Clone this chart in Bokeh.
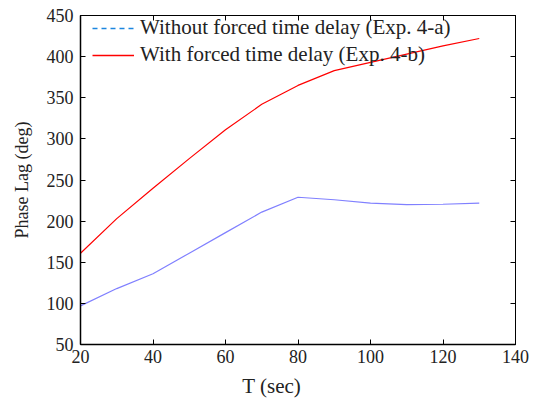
from bokeh.plotting import figure
from bokeh.models import Range1d, LinearAxis, Legend, LegendItem
from bokeh.embed import file_html
from bokeh.resources import INLINE

T = [20, 30, 40, 50, 60, 70, 80, 90, 100, 110, 120, 130]
without_delay = [97, 118, 136, 161, 186, 211, 229, 226, 222, 220, 220.5, 222]
with_delay = [161, 203, 240, 276, 311, 342, 365, 383, 393, 403, 413, 422]
x_ticks = [20, 40, 60, 80, 100, 120, 140]
y_ticks = [50, 100, 150, 200, 250, 300, 350, 400, 450]

FONT = "Liberation Serif"

p = figure(width=535, height=400, output_backend="svg", toolbar_location=None,
           x_range=Range1d(20, 140), y_range=Range1d(50, 450),
           min_border_left=80, min_border_right=20, min_border_top=15, min_border_bottom=55,
           x_axis_location=None, y_axis_location=None)
p.xgrid.visible = False
p.ygrid.visible = False
p.outline_line_color = "black"
p.outline_line_width = 1
p.background_fill_color = "white"
p.border_fill_color = "white"

def style(ax, labels=True):
    ax.major_tick_in = 5
    ax.major_tick_out = 0
    ax.minor_tick_in = 0
    ax.minor_tick_out = 0
    ax.axis_line_color = "black"
    ax.axis_line_width = 1.5
    ax.major_tick_line_color = "black"
    ax.major_label_text_font = FONT
    ax.major_label_text_font_size = "18px"
    ax.major_label_text_color = "#222222"
    ax.axis_label_text_font = FONT
    ax.axis_label_text_font_style = "normal"
    ax.axis_label_text_color = "#222222"
    if not labels:
        ax.major_label_overrides = {t: "" for t in ax.ticker.ticks}
        ax.major_label_standoff = 0

left = LinearAxis(ticker=y_ticks, axis_label="Phase Lag (deg)")
style(left)
left.major_label_standoff = 7
left.axis_label_text_font_size = "18px"
left.axis_label_standoff = 12
p.add_layout(left, "left")

bottom = LinearAxis(ticker=x_ticks, axis_label="T (sec)" + "\u00a0" * 10)
style(bottom)
bottom.major_label_standoff = 5
bottom.axis_label_text_font_size = "21px"
bottom.axis_label_standoff = 8
p.add_layout(bottom, "below")

top = LinearAxis(ticker=x_ticks)
style(top, labels=False)
top.axis_line_width = 1
p.add_layout(top, "above")

right = LinearAxis(ticker=y_ticks)
style(right, labels=False)
right.axis_line_width = 1
p.add_layout(right, "right")

p.line(T, without_delay, line_color="#8080ff", line_width=1.2)
p.line(T, with_delay, line_color="#ff0000", line_width=1.2)
leg_dash = p.line([float("nan")], [float("nan")], line_color="#1c86e0", line_width=1.5, line_dash="5 4")
leg_red = p.line([float("nan")], [float("nan")], line_color="#ff0000", line_width=1.5, line_dash="solid")

legend = Legend(items=[LegendItem(label="Without forced time delay (Exp. 4-a)", renderers=[leg_dash]),
                       LegendItem(label="With forced time delay (Exp. 4-b)", renderers=[leg_red])],
                location=(12, 277))
legend.border_line_color = None
legend.background_fill_alpha = 0
legend.label_text_font = FONT
legend.label_text_font_size = "21px"
legend.label_text_color = "#222222"
legend.glyph_width = 42
legend.glyph_height = 20
legend.label_height = 20
legend.label_standoff = 6
legend.spacing = 2
legend.margin = 0
legend.padding = 0
p.add_layout(legend)

open("out.html", "w").write(file_html(p, INLINE))
